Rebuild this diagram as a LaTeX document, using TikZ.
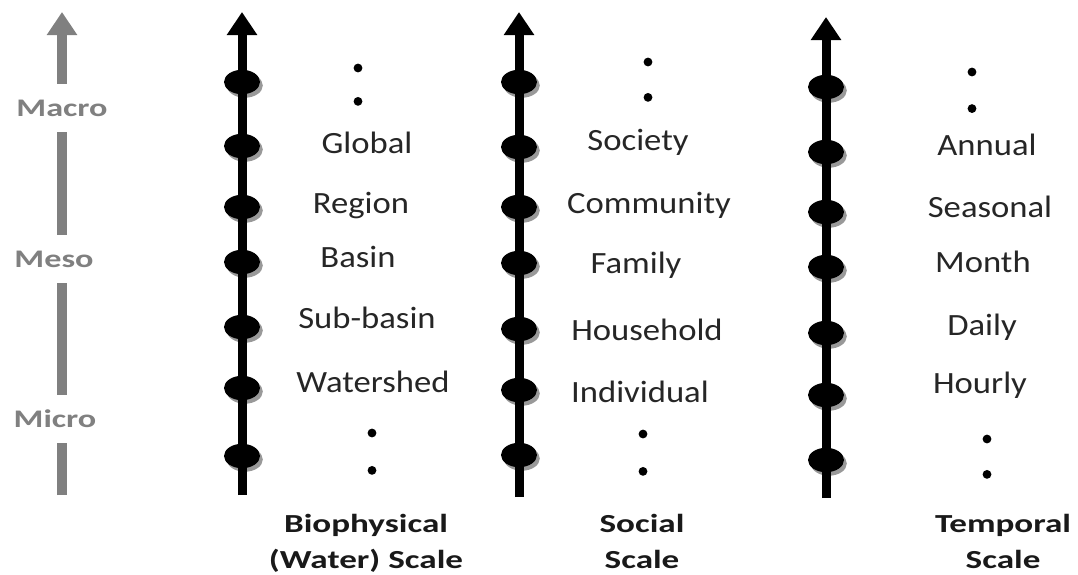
\documentclass[tikz,border=0pt]{standalone}
\usepackage{fontspec}
\setmainfont{Carlito}[FakeStretch=1.12]
\newfontfamily\widefont{Carlito}[FakeStretch=1.35]
\usetikzlibrary{positioning,arrows.meta,shapes.geometric,shadows}
\definecolor{scalegray}{RGB}{128,128,128}

\begin{document}
\begin{tikzpicture} [x=0.025cm, y=-0.025cm, node distance=0.6cm,
                    bead/.style={ellipse,fill=black,minimum width=0.9cm,minimum height=0.61cm,inner sep=0pt,
                                 drop shadow={shadow xshift=2pt,shadow yshift=-2.5pt,fill=black,opacity=0.4}},
                    pip/.style={circle,fill=black,minimum size=0.22cm,inner sep=0pt},
                    lab/.style={anchor=base,text=black!85,font=\fontsize{22}{24}\selectfont},
                    ttl/.style={anchor=base,align=center,text=black!90,font=\widefont\bfseries\fontsize{18.5}{25}\selectfont},
                    lvl/.style={fill=white,text=scalegray,minimum height=1.2cm,inner xsep=1pt,
                                font=\widefont\bfseries\fontsize{18}{20}\selectfont},
                    axis/.style={line width=0.225cm,-{Triangle[length=0.575cm,width=0.725cm]}}]

\useasboundingbox (0,0) rectangle (1078,574);

% ends of the axes
\coordinate (gB) at (62,495);
\coordinate (gT) at (62,12);
\coordinate (bB) at (242,495);
\coordinate (bT) at (242,12);
\coordinate (sB) at (519,497);
\coordinate (sT) at (519,12);
\coordinate (tB) at (826,498);
\coordinate (tT) at (826,17);

\draw[axis,scalegray,line width=0.26cm] (gB) -- (gT);
\draw[axis] (bB) -- (bT);
\draw[axis] (sB) -- (sT);
\draw[axis] (tB) -- (tT);

% macro / meso / micro
\node[lvl] (macro) at (62,108) {Macro};
\node[lvl] (meso) at (54,259) {Meso};
\node[lvl] (micro) at (55,419) {Micro};

% biophysical scale
\node[bead] (b1) at (242,82) {};
\node[bead] (b2) at (242,146) {};
\node[bead] (b3) at (242,207) {};
\node[bead] (b4) at (242,262) {};
\node[bead] (b5) at (242,327) {};
\node[bead] (b6) at (242,388) {};
\node[bead] (b7) at (242,456) {};
\node[pip] (bd1) at (358,68) {};
\node[pip] (bd2) [below=0.6cm of bd1] {};
\node[lab] (glob) at (367,153) {Global};
\node[lab] (reg) at (361,213) {Region};
\node[lab] (bas) at (358,267) {Basin};
\node[lab] (sub) at (367,328) {Sub-basin};
\node[lab] (wat) at (373,392) {Watershed};
\node[pip] (bd3) at (372,433) {};
\node[pip] (bd4) [below=0.7cm of bd3] {};
\node[ttl] (bioT) at (366,568) {Biophysical\\(Water) Scale};

% social scale
\node[bead] (s1) at (519,82) {};
\node[bead] (s2) at (519,147) {};
\node[bead] (s3) at (519,207) {};
\node[bead] (s4) at (519,263) {};
\node[bead] (s5) at (519,329) {};
\node[bead] (s6) at (519,390) {};
\node[bead] (s7) at (519,455) {};
\node[pip] (sd1) at (648,62) {};
\node[pip] (sd2) [below=0.65cm of sd1] {};
\node[lab] (soc) at (638,150) {Society};
\node[lab] (com) at (649,213) {Community};
\node[lab] (fam) at (636,273) {Family};
\node[lab] (hou) at (647,340) {Household};
\node[lab] (ind) at (640,402) {Individual};
\node[pip] (sd3) at (643,434) {};
\node[pip] (sd4) [below=0.7cm of sd3] {};
\node[ttl] (socT) at (642,568) {Social\\Scale};

% temporal scale
\node[bead] (t1) at (826,87) {};
\node[bead] (t2) at (826,152) {};
\node[bead] (t3) at (826,212) {};
\node[bead] (t4) at (826,267) {};
\node[bead] (t5) at (826,333) {};
\node[bead] (t6) at (826,395) {};
\node[bead] (t7) at (826,460) {};
\node[pip] (td1) at (972,72) {};
\node[pip] (td2) [below=0.68cm of td1] {};
\node[lab] (ann) at (987,155) {Annual};
\node[lab] (sea) at (990,217) {Seasonal};
\node[lab] (mon) at (983,272) {Month};
\node[lab] (dai) at (982,335) {Daily};
\node[lab] (hrl) at (980,393) {Hourly};
\node[pip] (td3) at (987,439) {};
\node[pip] (td4) [below=0.65cm of td3] {};
\node[ttl] (temT) at (1003,568) {Temporal\\Scale};
\end{tikzpicture}
\end{document}
